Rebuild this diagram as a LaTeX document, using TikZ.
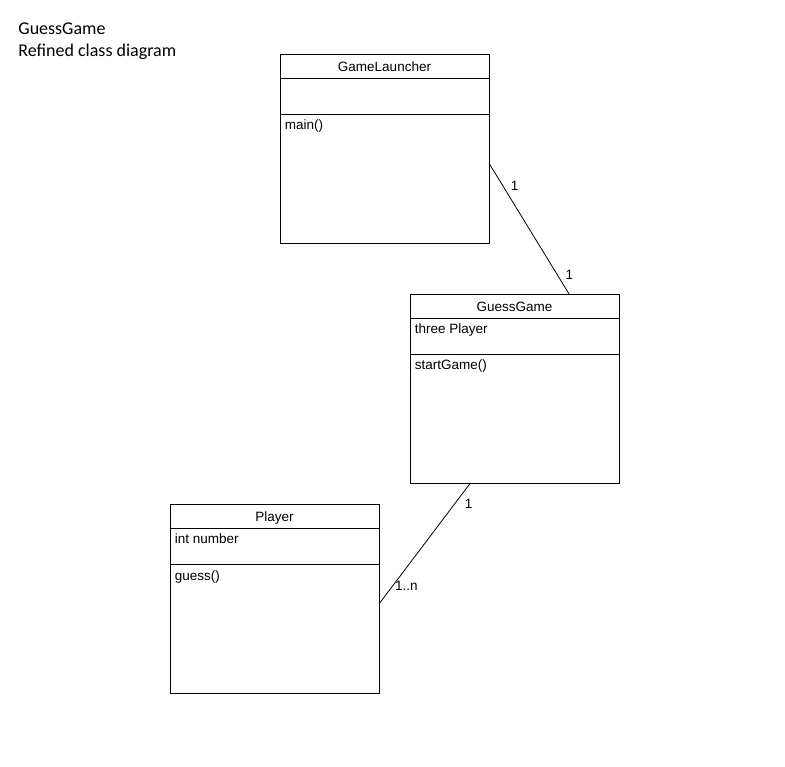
\documentclass[tikz,border=0pt]{standalone}
\usepackage{fontspec}
\setmainfont{Liberation Sans}
\newfontfamily\titlefont{Carlito}
\usetikzlibrary{positioning, calc}

\begin{document}
\begin{tikzpicture}[x=1pt, y=-1pt, line width=0.8pt,
    classbox/.style={draw, rectangle, anchor=north west, minimum width=209pt, minimum height=189pt, inner sep=0pt, outer sep=0pt},
    member/.style={anchor=base west, inner sep=0pt, font=\fontsize{13.5}{16}\selectfont},
    mult/.style={inner sep=0pt, font=\fontsize{13.5}{16}\selectfont},
    heading/.style={anchor=base west, inner sep=0pt, font=\titlefont\fontsize{18}{22}\selectfont}]
      \useasboundingbox (0,0) rectangle (785,767);

      \node[heading] (title) at (18,34.3) {GuessGame};
      \node[heading] (subtitle) at (18,56.7) {Refined class diagram};

      \foreach \n/\x/\y/\t/\a/\m in {launcher/280/54/GameLauncher//main(), game/410/294/GuessGame/three Player/startGame(), player/170/504/Player/int number/guess()} {
        \node[classbox] (\n) at (\x,\y) {};
        \draw ([yshift=-24pt]\n.north west) -- ([yshift=-24pt]\n.north east);
        \draw ([yshift=-60pt]\n.north west) -- ([yshift=-60pt]\n.north east);
        \node[member, anchor=base] (\n-name) at ([yshift=-17.7pt]\n.north) {\t};
        \node[member] (\n-attr) at ([xshift=4.5pt, yshift=-39.5pt]\n.north west) {\a};
        \node[member] (\n-ops) at ([xshift=4.5pt, yshift=-76pt]\n.north west) {\m};
      }

      \draw (launcher.-8) -- node[mult, pos=0.176, right=7.5pt] (m1) {1} node[mult, pos=0.857, right=7.5pt] (m2) {1} (game.60);
      \draw (game.-115) -- node[mult, pos=0.174, right=10pt] (m3) {1} node[mult, pos=0.851, right=2pt] (m4) {1..n} (player.-3);
    \end{tikzpicture}
\end{document}
